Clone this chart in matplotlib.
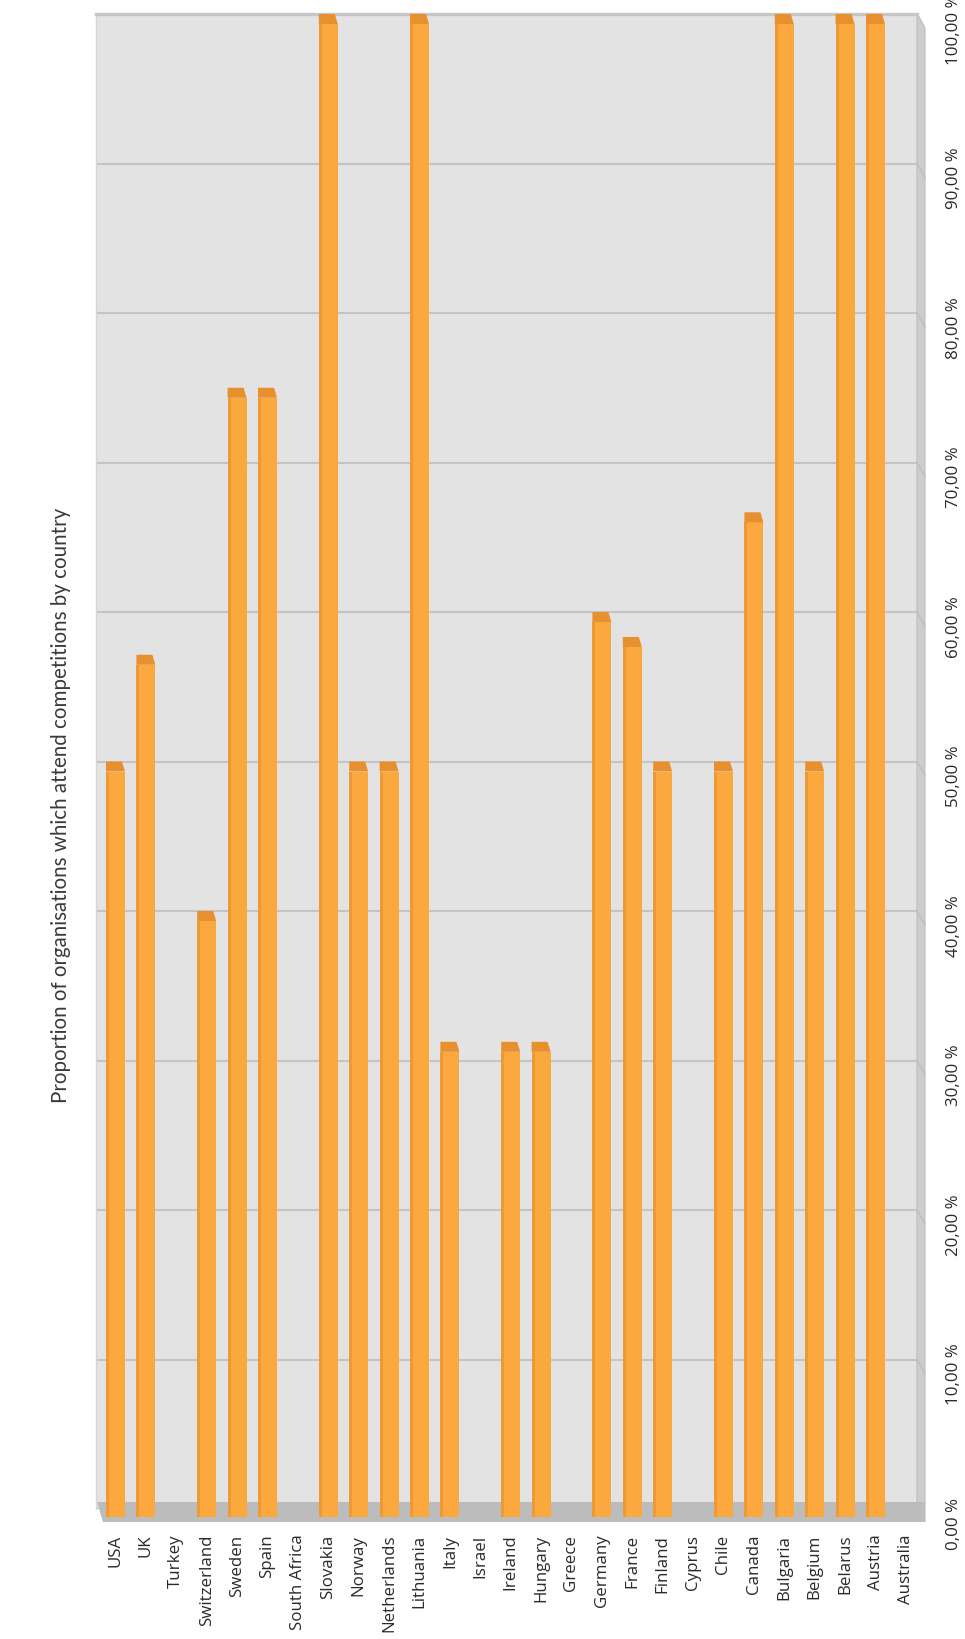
import matplotlib
matplotlib.use('Agg')
import matplotlib.pyplot as plt
import numpy as np
from matplotlib.patches import Polygon
from matplotlib.lines import Line2D
from matplotlib.transforms import ScaledTranslation, blended_transform_factory, IdentityTransform

# ---------------- data ----------------
countries = ["USA", "UK", "Turkey", "Switzerland", "Sweden", "Spain", "South Africa",
             "Slovakia", "Norway", "Netherlands", "Lithuania", "Italy", "Israel",
             "Ireland", "Hungary", "Greece", "Germany", "France", "Finland", "Cyprus",
             "Chile", "Canada", "Bulgaria", "Belgium", "Belarus", "Austria", "Australia"]
share = [50, 57.14, 0, 40, 75, 75, 0,
         100, 50, 50, 100, 31.25, 0,
         31.25, 31.25, 0, 60, 58.33, 50, 0,
         50, 66.67, 100, 50, 100, 100, 0]
ytick_values = [0, 10, 20, 30, 40, 50, 60, 70, 80, 90, 100]
ytick_labels = ["0,00 %", "10,00 %", "20,00 %", "30,00 %", "40,00 %", "50,00 %",
                "60,00 %", "70,00 %", "80,00 %", "90,00 %", "100,00 %"]
title = "Proportion of organisations which attend competitions by country"

# ---------------- layout ----------------
W, H = 965, 1639
DPI = 100
fig = plt.figure(figsize=(W / DPI, H / DPI), dpi=DPI)
fig.patch.set_facecolor('white')

wall_l, wall_r, wall_t, wall_b = 96, 917, 14, 1509
ax = fig.add_axes([wall_l / W, 1 - wall_b / H, (wall_r - wall_l) / W, (wall_b - wall_t) / H])
XMIN, XMAX = -0.641, 26.365
ux = (XMAX - XMIN) / (wall_r - wall_l)   # data units per pixel (x)
uy = 100.0 / (wall_b - wall_t)           # data units per pixel (y)

ax.set_facecolor('#e3e3e3')
for s in ['right', 'bottom']:
    ax.spines[s].set_visible(False)
ax.spines['left'].set_color('#d6d6d6')
ax.spines['left'].set_linewidth(1.0)
ax.spines['top'].set_color('#c6c6c6')
ax.spines['top'].set_linewidth(2.4)

def disp(px, py):
    return (px, H - py)

# floor slab
floor = Polygon([disp(97, 1502), disp(103, 1522), disp(925, 1522), disp(925, 1502)],
                closed=True, transform=IdentityTransform(), clip_on=False,
                facecolor='#bcbcbc', edgecolor='none', zorder=0.6)
ax.add_patch(floor)
# right side wall
side = Polygon([disp(917, 13), disp(925, 28), disp(925, 1522), disp(917, 1509)],
               closed=True, transform=IdentityTransform(), clip_on=False,
               facecolor='#cdcdcd', edgecolor='#bdbdbd', linewidth=0.8, zorder=0.55)
ax.add_patch(side)

# gridlines on the back wall
ax.set_yticks(ytick_values)
ax.grid(axis='y', color='#c4c4c4', linewidth=1.5)
ax.set_axisbelow(True)
# gridlines continuing on the side wall (slanted)
for v in ytick_values[1:-1]:
    py = wall_b - v / uy
    ax.add_line(Line2D([917, 925], [H - py, H - py - 14], transform=IdentityTransform(),
                       color='#bdbdbd', linewidth=1.0, clip_on=False, zorder=0.58))

# ---------------- bars ----------------
x = np.arange(len(countries))
vals = np.array(share, dtype=float)
bar_w = 19 * ux
front_drop = 10 * uy     # front face top is below the back-plane value
front_bottom = -8 * uy   # front face extends onto the floor
heights = np.where(vals > 0, vals - front_drop - front_bottom, 0)

bars = ax.bar(x, heights, width=bar_w, bottom=front_bottom, color='#fba93f',
              edgecolor='none', zorder=3)
for b in bars:
    b.set_clip_on(False)
# darker left edge of each bar
edge_w = 3 * ux
lb = ax.bar(x - bar_w / 2 + edge_w / 2, heights, width=edge_w, bottom=front_bottom,
            color='#ee9836', edgecolor='none', zorder=3.2)
for b in lb:
    b.set_clip_on(False)
# top caps
for xi, v in zip(x, vals):
    if v <= 0:
        continue
    x0, x1 = xi - bar_w / 2, xi + bar_w / 2
    cap = Polygon([(x0, v - front_drop), (x0, v), (x1 - 3 * ux, v), (x1, v - front_drop)],
                  closed=True, facecolor='#e8902e', edgecolor='none', zorder=3.5, clip_on=False)
    ax.add_patch(cap)

ax.set_xlim(XMIN, XMAX)
ax.set_ylim(0, 100)

# ---------------- text ----------------
label_font = ['Open Sans', 'DejaVu Sans']
ax.set_xticks(x)
ax.set_xticklabels(countries, rotation=90, fontsize=12.2, family=label_font, color='#2a2a2a')
ax.tick_params(axis='x', length=0, pad=18.5)
ax.tick_params(axis='y', length=0, labelleft=False, labelright=False)

trans = blended_transform_factory(ax.transAxes, ax.transData) + \
    ScaledTranslation(37 / DPI, -15 / DPI, fig.dpi_scale_trans)
for v, lab in zip(ytick_values, ytick_labels):
    ax.text(1, v, lab, transform=trans, rotation=90, ha='center', va='center',
            fontsize=12.2, family=label_font, color='#2a2a2a', clip_on=False)

fig.text(61 / W, 1 - 805 / H, title, rotation=90, ha='center', va='center',
         fontsize=14.8, family=['Lato', 'DejaVu Sans'], color='#3a3a3a')

fig.savefig('out.png', dpi=DPI)
